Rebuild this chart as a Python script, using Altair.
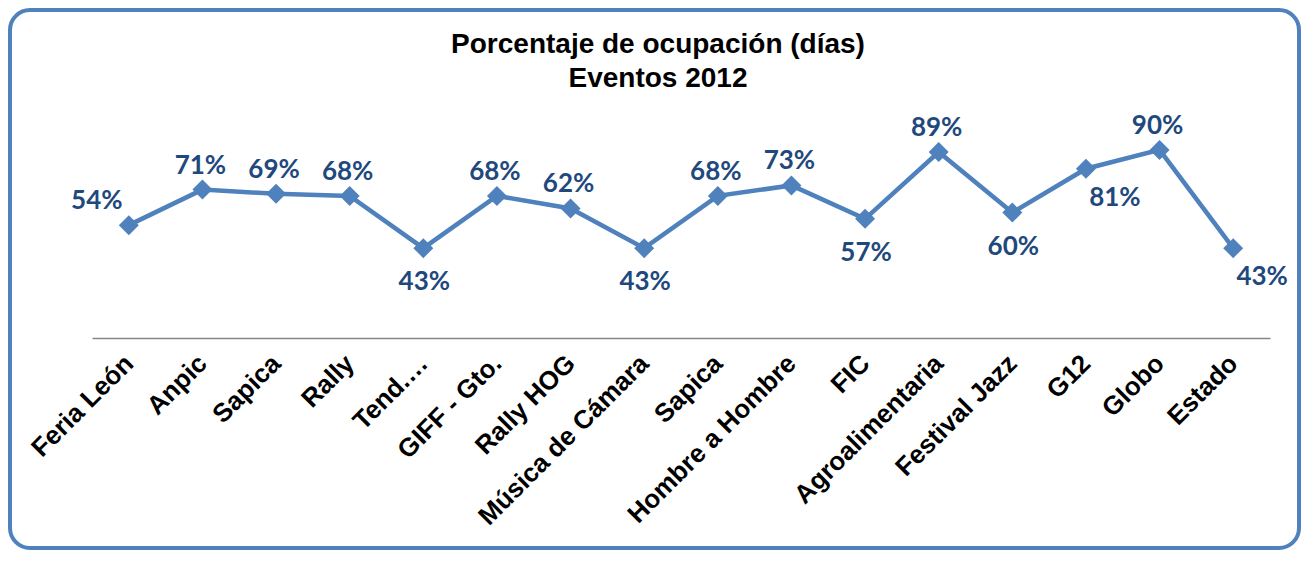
import json
import altair as alt
import pandas as pd

# ---- data ----
events = ["Feria León", "Anpic", "Sapica", "Rally", "Tend.…", "GIFF - Gto.",
          "Rally HOG", "Música de Cámara", "Sapica", "Hombre a Hombre", "FIC",
          "Agroalimentaria", "Festival Jazz", "G12", "Globo", "Estado"]
occupancy = [54, 71, 69, 68, 43, 68, 62, 43, 68, 73, 57, 89, 60, 81, 90, 43]
label_side = ["topleft", "top", "top", "top", "bottom", "top", "top", "bottom",
              "top", "top", "bottom", "top", "bottom", "bottomright", "top",
              "bottomright"]
title_lines = ["Porcentaje de ocupación (días)", "Eventos 2012"]

df = pd.DataFrame({
    "idx": list(range(len(events))),
    "event": events,
    "pct": occupancy,
    "side": label_side,
})
df["label"] = [f"{v}%" for v in occupancy]

BLUE = "#4F81BD"
LABEL_BLUE = "#1F497D"
W, H = 1178, 209

names_js = json.dumps(events, ensure_ascii=False)

base = alt.Chart(df).encode(
    x=alt.X(
        "idx:O",
        title=None,
        scale=alt.Scale(padding=0.5),
        axis=alt.Axis(
            labelExpr=f"{names_js}[datum.value]",
            labelAngle=315,
            labelAlign="right",
            labelBaseline="middle",
            labelPadding=21,
            labelFont="Liberation Sans",
            labelFontWeight="bold",
            labelFontSize=26,
            labelColor="black",
            labelLimit=0,
            labelOverlap=False,
            ticks=False,
            grid=False,
            domainColor="#878787",
            domainWidth=1.5,
        ),
    ),
    y=alt.Y("pct:Q", scale=alt.Scale(domain=[0, 100]), axis=None),
)

line = base.mark_line(
    color=BLUE,
    strokeWidth=4.5,
    point=alt.OverlayMarkDef(shape="diamond", size=400, filled=True, color=BLUE, opacity=1),
)

offsets = {"topleft": (-32, -24), "top": (-2, -24), "bottom": (1, 34), "bottomright": (29, 29)}
text_layers = []
for side, (dx, dy) in offsets.items():
    text_layers.append(
        base.transform_filter(alt.datum.side == side)
        .mark_text(dx=dx, dy=dy, font="Lato", fontWeight="bold", fontSize=26,
                   color=LABEL_BLUE, align="center", baseline="middle")
        .encode(text="label:N")
    )

border = alt.Chart(alt.Data(values=[{}])).mark_rect(
    fillOpacity=0, stroke=BLUE, strokeWidth=4, cornerRadius=20
).encode(x=alt.value(-82), x2=alt.value(1207), y=alt.value(-119), y2=alt.value(419))

title = alt.Chart(alt.Data(values=[{}])).mark_text(
    text=title_lines, font="Liberation Sans", fontSize=28, fontWeight="bold",
    color="black", align="center", baseline="alphabetic", lineHeight=34
).encode(x=alt.value(566), y=alt.value(-76))

chart = alt.layer(border, title, line, *text_layers).properties(
    width=W,
    height=H,
    autosize=alt.AutoSizeParams(type="none"),
    padding={"left": 84, "top": 121, "right": 31, "bottom": 215},
    background="white",
).configure_view(stroke=None)

chart.save("out.html", embed_options={"renderer": "svg", "actions": False})
